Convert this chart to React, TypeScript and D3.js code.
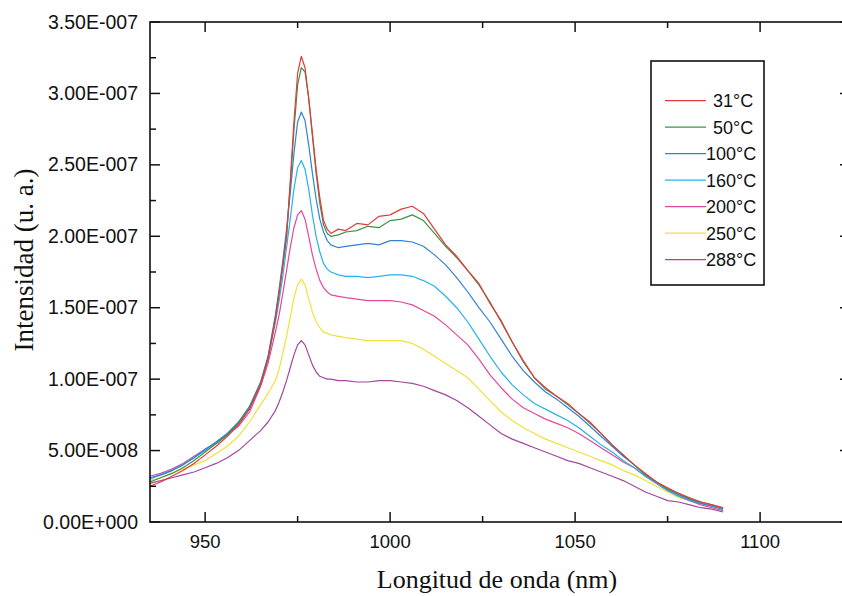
import React from 'react';
import * as d3 from 'd3';

const WIDTH = 842;
const HEIGHT = 596;

// plot frame (right edge runs just past the page edge, like the scan)
const FRAME = { left: 150, right: 850, top: 22, bottom: 522 };

// wavelength grid (nm)
const wavelength = [
  935, 938, 941, 944, 947, 950, 953, 956, 959, 962, 965, 967, 969,
  970, 971, 972, 973, 974, 975, 976, 977, 978, 979, 980, 981, 982, 983, 984,
  986, 988,
  991, 994, 997, 1000, 1003, 1006, 1009, 1012, 1015, 1018, 1021, 1024, 1027, 1030,
  1033, 1036, 1039, 1042, 1045, 1048, 1051, 1054, 1057, 1060, 1063, 1066, 1069,
  1072, 1075, 1078, 1081, 1084, 1087, 1090,
];

// intensities, in units of 1E-007
const t31 = [
  0.25, 0.28, 0.32, 0.36, 0.41, 0.47, 0.53, 0.60, 0.68, 0.79, 0.96, 1.14, 1.42,
  1.60, 1.79, 1.99, 2.38, 2.80, 3.14, 3.26, 3.18, 2.96, 2.72, 2.47, 2.27, 2.11, 2.05, 2.02,
  2.05, 2.04,
  2.09, 2.08, 2.14, 2.15, 2.19, 2.21, 2.16, 2.05, 1.94, 1.86, 1.76, 1.67, 1.53, 1.41,
  1.26, 1.13, 1.01, 0.94, 0.88, 0.83, 0.76, 0.70, 0.62, 0.54, 0.47, 0.40, 0.34,
  0.28, 0.24, 0.20, 0.17, 0.14, 0.12, 0.10,
];
const t50 = [
  0.28, 0.31, 0.34, 0.38, 0.43, 0.49, 0.55, 0.61, 0.69, 0.80, 0.97, 1.15, 1.43,
  1.61, 1.80, 2.00, 2.36, 2.74, 3.06, 3.18, 3.15, 2.97, 2.70, 2.44, 2.23, 2.08, 2.02, 2.00,
  2.01, 2.03,
  2.04, 2.07, 2.06, 2.11, 2.12, 2.15, 2.11, 2.02, 1.93, 1.85, 1.76, 1.66, 1.54, 1.40,
  1.26, 1.12, 1.01, 0.93, 0.88, 0.82, 0.76, 0.69, 0.62, 0.54, 0.47, 0.40, 0.33,
  0.28, 0.23, 0.20, 0.16, 0.14, 0.12, 0.10,
];
const t100 = [
  0.31, 0.33, 0.36, 0.40, 0.45, 0.51, 0.56, 0.62, 0.70, 0.81, 0.98, 1.16, 1.45,
  1.63, 1.83, 2.05, 2.30, 2.58, 2.80, 2.87, 2.81, 2.64, 2.44, 2.26, 2.12, 2.03, 1.97, 1.94,
  1.92, 1.93,
  1.94, 1.95, 1.94, 1.97, 1.97, 1.96, 1.93, 1.87, 1.80, 1.71, 1.61, 1.50, 1.40, 1.28,
  1.16, 1.06, 0.98, 0.91, 0.86, 0.80, 0.74, 0.67, 0.60, 0.53, 0.46, 0.40, 0.33,
  0.28, 0.23, 0.19, 0.16, 0.13, 0.11, 0.09,
];
const t160 = [
  0.30, 0.33, 0.36, 0.40, 0.45, 0.50, 0.56, 0.62, 0.69, 0.80, 0.97, 1.14, 1.40,
  1.55, 1.72, 1.92, 2.12, 2.33, 2.48, 2.53, 2.47, 2.33, 2.15, 2.00, 1.89, 1.81, 1.77, 1.75,
  1.73, 1.72,
  1.72, 1.71, 1.72, 1.73, 1.73, 1.72, 1.69, 1.65, 1.58, 1.50, 1.40, 1.28, 1.16, 1.05,
  0.96, 0.89, 0.83, 0.79, 0.75, 0.71, 0.66, 0.60, 0.54, 0.49, 0.43, 0.38, 0.32,
  0.27, 0.22, 0.18, 0.15, 0.13, 0.11, 0.09,
];
const t200 = [
  0.32, 0.34, 0.37, 0.41, 0.46, 0.51, 0.55, 0.61, 0.67, 0.77, 0.95, 1.11, 1.33,
  1.45, 1.60, 1.76, 1.92, 2.06, 2.15, 2.18, 2.12, 2.00, 1.87, 1.77, 1.69, 1.64, 1.61, 1.59,
  1.58, 1.57,
  1.56, 1.55, 1.55, 1.55, 1.54, 1.52, 1.48, 1.44, 1.38, 1.31, 1.24, 1.14, 1.03, 0.94,
  0.86, 0.80, 0.76, 0.72, 0.69, 0.66, 0.62, 0.57, 0.52, 0.47, 0.42, 0.38, 0.32,
  0.27, 0.22, 0.18, 0.15, 0.12, 0.10, 0.08,
];
const t250 = [
  0.29, 0.31, 0.34, 0.37, 0.40, 0.43, 0.48, 0.53, 0.60, 0.70, 0.82, 0.90, 0.99,
  1.07, 1.18, 1.30, 1.43, 1.57, 1.66, 1.70, 1.66, 1.56, 1.47, 1.40, 1.36, 1.33, 1.32, 1.31,
  1.30, 1.29,
  1.28, 1.27, 1.27, 1.27, 1.27, 1.25, 1.21, 1.16, 1.11, 1.06, 1.01, 0.93, 0.85, 0.77,
  0.71, 0.66, 0.62, 0.58, 0.55, 0.52, 0.49, 0.46, 0.43, 0.40, 0.36, 0.33, 0.29,
  0.25, 0.21, 0.17, 0.15, 0.13, 0.11, 0.09,
];
const t288 = [
  0.27, 0.29, 0.31, 0.33, 0.35, 0.38, 0.41, 0.45, 0.50, 0.57, 0.64, 0.70, 0.78,
  0.84, 0.91, 0.99, 1.08, 1.17, 1.24, 1.27, 1.24, 1.17, 1.10, 1.05, 1.02, 1.01, 1.00, 1.00,
  0.99, 0.99,
  0.98, 0.98, 0.99, 0.99, 0.98, 0.97, 0.95, 0.92, 0.89, 0.85, 0.80, 0.74, 0.68, 0.62,
  0.58, 0.55, 0.52, 0.49, 0.46, 0.43, 0.41, 0.38, 0.35, 0.32, 0.29, 0.25, 0.21,
  0.18, 0.15, 0.14, 0.12, 0.10, 0.09, 0.07,
];

const seriesNames = ['31°C', '50°C', '100°C', '160°C', '200°C', '250°C', '288°C'];
const seriesValues = [t31, t50, t100, t160, t200, t250, t288];
const seriesColors = ['#e23b3b', '#3a9444', '#3481d4', '#27b2ea', '#e4489e', '#f2e03a', '#a3479c'];

const yTickValues = [0, 0.5, 1, 1.5, 2, 2.5, 3, 3.5];
const yTickLabels = [
  '0.00E+000', '5.00E-008', '1.00E-007', '1.50E-007',
  '2.00E-007', '2.50E-007', '3.00E-007', '3.50E-007',
];
const yMinorTicks = [0.25, 0.75, 1.25, 1.75, 2.25, 2.75, 3.25];
const xTickValues = [950, 1000, 1050, 1100];
const xMinorTicks = [975, 1025, 1075];

const SANS = '"Liberation Sans", Arial, sans-serif';
const SERIF = '"Liberation Serif", "Times New Roman", serif';

export default function App() {
  const x = d3.scaleLinear().domain([935.1, 1124.3]).range([FRAME.left, FRAME.right]);
  const y = d3.scaleLinear().domain([0, 3.5]).range([FRAME.bottom, FRAME.top]);

  const line = d3.line<number>()
    .x((_, i) => x(wavelength[i]))
    .y(d => y(d));

  const MAJOR = 10;
  const MINOR = 6;

  return (
    <svg width={WIDTH} height={HEIGHT} style={{ position: 'absolute', left: 0, top: 0, background: '#fff' }}>
      {/* curves, drawn from the highest temperature up so red/green sit on top */}
      <g fill="none" strokeWidth={1.2} strokeLinejoin="round">
        {seriesValues.map((vals, i) => ({ vals, i })).reverse().map(({ vals, i }) => (
          <path key={seriesNames[i]} d={line(vals) || ''} stroke={seriesColors[i]} />
        ))}
      </g>

      {/* frame */}
      <rect x={FRAME.left} y={FRAME.top} width={FRAME.right - FRAME.left} height={FRAME.bottom - FRAME.top}
        fill="none" stroke="#111" strokeWidth={1.6} />

      {/* ticks on all four sides, pointing inward */}
      <g stroke="#111" strokeWidth={1.5}>
        {xTickValues.map(v => (
          <g key={'xt' + v}>
            <line x1={x(v)} x2={x(v)} y1={FRAME.bottom} y2={FRAME.bottom - MAJOR} />
            <line x1={x(v)} x2={x(v)} y1={FRAME.top} y2={FRAME.top + MAJOR} />
          </g>
        ))}
        {xMinorTicks.map(v => (
          <g key={'xm' + v}>
            <line x1={x(v)} x2={x(v)} y1={FRAME.bottom} y2={FRAME.bottom - MINOR} />
            <line x1={x(v)} x2={x(v)} y1={FRAME.top} y2={FRAME.top + MINOR} />
          </g>
        ))}
        {yTickValues.map(v => (
          <g key={'yt' + v}>
            <line x1={FRAME.left} x2={FRAME.left + MAJOR} y1={y(v)} y2={y(v)} />
            <line x1={FRAME.right} x2={FRAME.right - MAJOR} y1={y(v)} y2={y(v)} />
          </g>
        ))}
        {yMinorTicks.map(v => (
          <g key={'ym' + v}>
            <line x1={FRAME.left} x2={FRAME.left + MINOR} y1={y(v)} y2={y(v)} />
            <line x1={FRAME.right} x2={FRAME.right - MINOR} y1={y(v)} y2={y(v)} />
          </g>
        ))}
      </g>

      {/* tick labels */}
      <g fontFamily={SANS} fill="#111">
        {yTickValues.map((v, i) => (
          <text key={'yl' + v} x={138} y={y(v) + 6.5} textAnchor="end" fontSize={19.5}>{yTickLabels[i]}</text>
        ))}
        {xTickValues.map(v => (
          <text key={'xl' + v} x={x(v)} y={548} textAnchor="middle" fontSize={18.5}>{v}</text>
        ))}
      </g>

      {/* axis titles */}
      <text x={497} y={588} textAnchor="middle" fontFamily={SERIF} fontSize={26} fill="#111">
        Longitud de onda (nm)
      </text>
      <text transform="translate(33, 260) rotate(-90)" textAnchor="middle" fontFamily={SERIF}
        fontSize={27} fill="#111">
        Intensidad (u. a.)
      </text>

      {/* legend */}
      <g>
        <rect x={651} y={61} width={113} height={224} fill="#fff" stroke="#111" strokeWidth={1.6} />
        {seriesNames.map((name, i) => {
          const ly = 100.7 + i * 26.5;
          return (
            <g key={'lg' + name}>
              <line x1={665} x2={706} y1={ly} y2={ly} stroke={seriesColors[i]} strokeWidth={1.3} />
              <text x={name.length < 5 ? 713 : 706} y={ly + 6.5} fontFamily={SANS} fontSize={18} fill="#111">
                {name}
              </text>
            </g>
          );
        })}
      </g>
    </svg>
  );
}
